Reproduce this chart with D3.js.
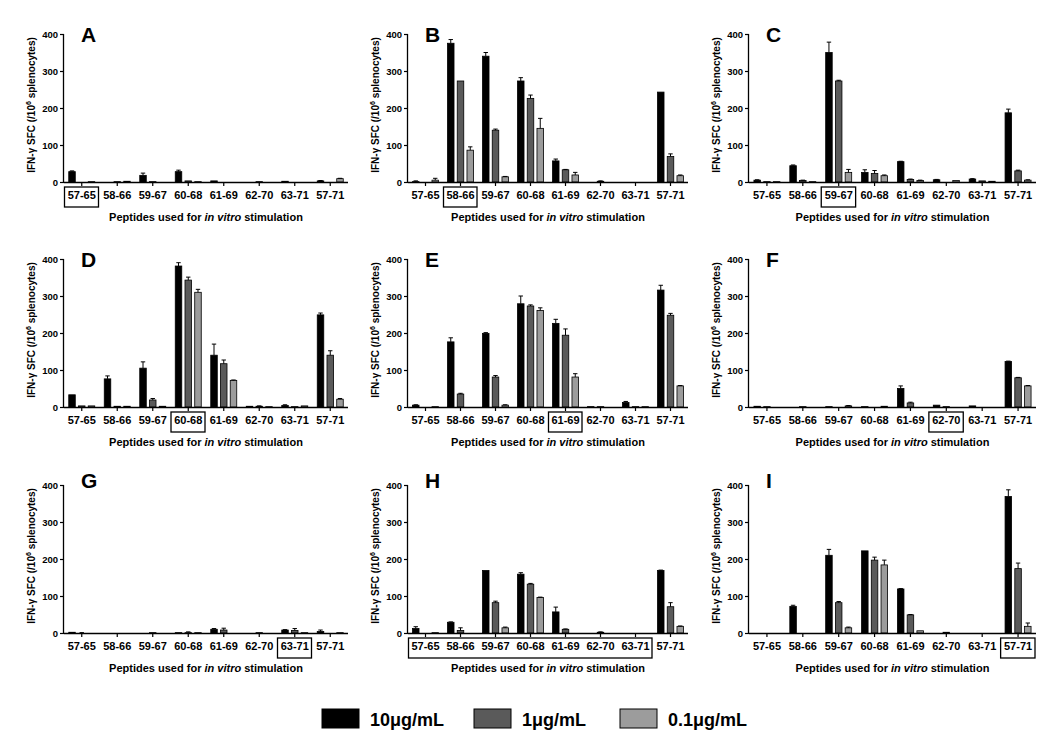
<!DOCTYPE html>
<html>
<head>
<meta charset="utf-8">
<script src="https://cdn.jsdelivr.net/npm/d3@7"></script>
<style>
  body { margin: 0; background: #fff; }
  svg { display: block; font-family: Arial, "Liberation Sans", sans-serif; }
</style>
</head>
<body>
<svg id="chart" width="1050" height="754"></svg>
<script>
const categories = ["57-65","58-66","59-67","60-68","61-69","62-70","63-71","57-71"];
const series = ["10\u03bcg/mL","1\u03bcg/mL","0.1\u03bcg/mL"];
const yTicks = [0,100,200,300,400];
const panelLabels = ["A","B","C","D","E","F","G","H","I"];
const highlightStart = [0,1,2,3,4,5,6,0,7];
const highlightEnd   = [0,1,2,3,4,5,6,6,7];

// values: [10 µg/mL, 1 µg/mL, 0.1 µg/mL], each per category
const valuesA = [[28,0,18,28,3,0,2,3],[0,1,1,3,0,1,0,0],[1,2,0,1,0,0,0,9]];
const errorsA = [[2,0,6,4,0,0,0,1],[0,0,0,0,0,0,0,0],[0,0,0,0,0,0,0,1]];
const valuesB = [[1,375,340,273,57,0,0,243],[0,273,140,226,33,2,0,69],[5,86,14,145,19,0,0,17]];
const errorsB = [[2,10,10,9,5,0,0,0],[0,0,3,9,1,1,0,7],[5,9,1,27,7,0,0,2]];
const valuesC = [[5,44,350,26,55,6,8,187],[1,4,273,23,7,0,3,30],[1,1,26,17,4,4,2,5]];
const errorsC = [[1,2,28,7,1,1,1,10],[0,1,2,8,1,0,0,2],[0,0,8,2,1,0,0,1]];
const valuesD = [[33,76,105,381,140,2,4,249],[3,2,19,343,117,2,1,140],[3,2,2,310,72,1,3,21]];
const errorsD = [[0,8,17,9,30,0,2,5],[0,0,4,8,10,1,0,12],[0,0,0,8,1,0,0,2]];
const valuesE = [[5,176,199,279,226,1,12,316],[0,35,81,273,194,1,1,248],[1,0,5,261,81,0,1,57]];
const errorsE = [[1,11,2,21,11,0,3,13],[0,2,4,3,17,0,0,5],[0,0,1,7,9,0,0,1]];
const valuesF = [[2,0,1,1,50,5,3,123],[1,1,0,0,11,1,0,79],[0,0,3,2,0,0,0,57]];
const errorsF = [[0,0,0,0,7,0,0,1],[0,0,0,0,2,0,0,1],[0,0,1,0,0,0,0,1]];
const valuesG = [[2,0,0,1,10,0,8,4],[0,0,1,1,8,1,7,0],[0,0,0,1,0,0,1,1]];
const errorsG = [[0,0,0,0,2,0,1,4],[1,0,0,2,5,0,5,0],[0,0,0,0,0,0,0,0]];
const valuesH = [[12,29,169,159,57,0,0,169],[0,7,82,132,10,2,0,71],[1,0,14,96,0,0,0,18]];
const errorsH = [[5,1,0,4,13,0,0,1],[0,7,4,2,1,1,0,11],[0,0,2,1,0,0,0,1]];
const valuesI = [[0,72,210,222,119,0,0,369],[0,0,82,197,49,2,0,174],[0,0,14,184,6,0,0,18]];
const errorsI = [[0,3,16,0,1,0,0,18],[0,0,3,8,1,0,0,15],[0,0,2,13,0,0,0,9]];

const allValues = [valuesA,valuesB,valuesC,valuesD,valuesE,valuesF,valuesG,valuesH,valuesI];
const allErrors = [errorsA,errorsB,errorsC,errorsD,errorsE,errorsF,errorsG,errorsH,errorsI];

const colors = ["#000000","#5a5a5a","#9c9c9c"];
const colX = [64, 408, 749];
const colW = [284, 280, 287];
const rowZero = [182, 407, 633];
const plotH = 148;
const letterBase = [42, 267, 488];

const svg = d3.select("#chart");

allValues.forEach((vals, p) => {
  const col = p % 3, row = Math.floor(p / 3);
  const x0 = colX[col], w = colW[col], y0 = rowZero[row];
  const g = svg.append("g");

  const x = d3.scaleBand().domain(categories).range([x0, x0 + w]).padding(0);
  const xi = d3.scaleBand().domain(series).range([-13, 13]).paddingInner(0.33).paddingOuter(0);
  const y = d3.scaleLinear().domain([0, 400]).range([y0, y0 - plotH]);

  // bars
  series.forEach((s, si) => {
    categories.forEach((c, ci) => {
      const v = vals[si][ci];
      const e = allErrors[p][si][ci];
      const cx = x(c) + x.bandwidth() / 2 + xi(s);
      const bw = xi.bandwidth();
      if (v > 0) {
        g.append("rect")
          .attr("x", cx).attr("y", y(v))
          .attr("width", bw).attr("height", y(0) - y(v))
          .attr("fill", colors[si])
          .attr("stroke", "#000").attr("stroke-width", 0.8);
      }
      if (e > 0.5) {
        const mx = cx + bw / 2;
        g.append("line").attr("x1", mx).attr("x2", mx)
          .attr("y1", y(v)).attr("y2", y(v + e))
          .attr("stroke", "#000").attr("stroke-width", 1);
        g.append("line").attr("x1", mx - 2.2).attr("x2", mx + 2.2)
          .attr("y1", y(v + e)).attr("y2", y(v + e))
          .attr("stroke", "#000").attr("stroke-width", 1);
      }
    });
  });

  // y axis
  const yAxis = d3.axisLeft(y).tickValues(yTicks).tickSize(4).tickPadding(2);
  const ya = g.append("g").attr("transform", `translate(${x0},0)`).call(yAxis);
  ya.select(".domain").attr("stroke-width", 1.3).attr("d", `M-0.5,${y(0)}V${y(400)}`);
  ya.selectAll(".tick line").attr("stroke-width", 1.2);
  ya.selectAll("text").attr("font-size", 9.5).attr("font-weight", "bold").attr("fill", "#000")
    .attr("font-family", "Arial, 'Liberation Sans', sans-serif");

  // x axis
  const xAxis = d3.axisBottom(x).tickSize(4).tickPadding(5);
  const xa = g.append("g").attr("transform", `translate(0,${y0})`).call(xAxis);
  xa.select(".domain").attr("stroke-width", 1.3).attr("d", `M${x0},0.5H${x0 + w}`);
  xa.selectAll(".tick line").attr("stroke-width", 1.2);
  xa.selectAll("text").attr("font-size", 11).attr("font-weight", "bold").attr("fill", "#000")
    .attr("font-family", "Arial, 'Liberation Sans', sans-serif");

  // highlight box
  const hs = highlightStart[p], he = highlightEnd[p];
  const bx0 = x(categories[hs]) + 0.5;
  const bx1 = x(categories[he]) + x.bandwidth() - 1;
  g.append("rect")
    .attr("x", bx0).attr("y", y0 + 5)
    .attr("width", bx1 - bx0).attr("height", 20)
    .attr("fill", "none").attr("stroke", "#000").attr("stroke-width", 1.3);

  // x axis title
  const xt = g.append("text")
    .attr("x", x0 + w / 2).attr("y", y0 + 39)
    .attr("text-anchor", "middle").attr("font-size", 11).attr("font-weight", "bold");
  xt.append("tspan").text("Peptides used for ");
  xt.append("tspan").attr("font-style", "italic").text("in vitro");
  xt.append("tspan").text(" stimulation");

  // y axis title
  const yt = g.append("text")
    .attr("transform", `translate(${x0 - 29},${y0 - plotH / 2 - 3}) rotate(-90)`)
    .attr("text-anchor", "middle").attr("font-size", 10).attr("font-weight", "bold");
  yt.append("tspan").text("IFN-\u03b3 SFC (/10");
  yt.append("tspan").attr("font-size", 7).attr("dy", -4).text("6");
  yt.append("tspan").attr("dy", 4).text(" splenocytes)");

  // panel letter
  g.append("text")
    .attr("x", x0 + 17).attr("y", letterBase[row])
    .attr("font-size", 21).attr("font-weight", "bold")
    .text(panelLabels[p]);
});

// legend
const legX = [322, 474, 620];
const legend = svg.append("g");
series.forEach((s, i) => {
  legend.append("rect")
    .attr("x", legX[i]).attr("y", 709).attr("width", 37).attr("height", 19)
    .attr("fill", colors[i]).attr("stroke", "#000").attr("stroke-width", 1);
  legend.append("text")
    .attr("x", legX[i] + 48).attr("y", 726)
    .attr("font-size", 18).attr("font-weight", "bold")
    .text(s);
});
</script>
</body>
</html>
